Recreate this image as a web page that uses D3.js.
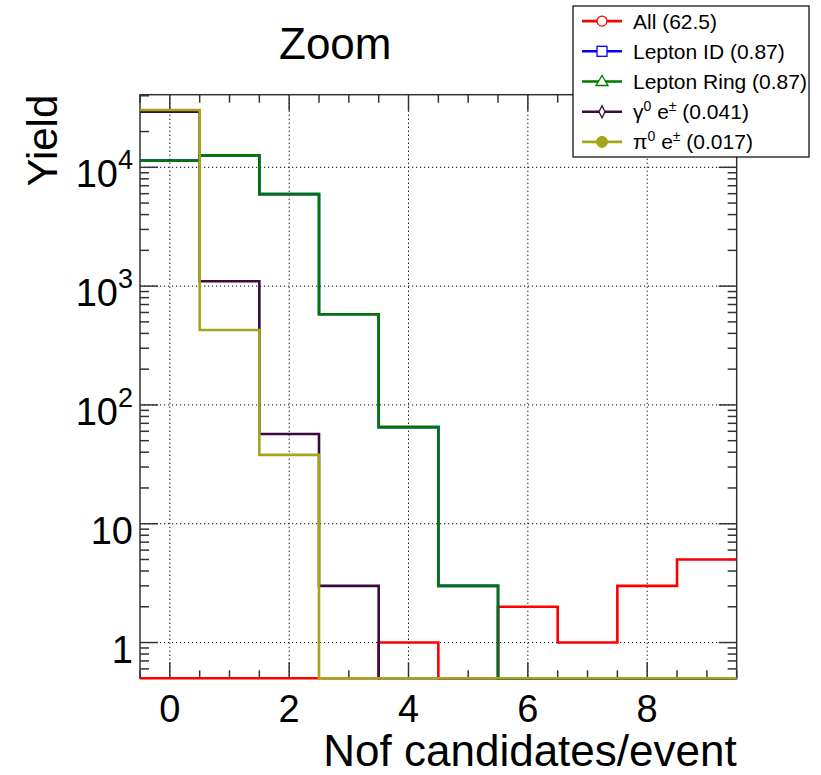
<!DOCTYPE html>
<html>
<head>
<meta charset="utf-8">
<script src="https://cdn.jsdelivr.net/npm/d3@7"></script>
<style>
  html, body { margin: 0; padding: 0; background: #fff; }
  svg { display: block; font-family: "Liberation Sans", Arial, Helvetica, sans-serif; }
</style>
</head>
<body>
<svg id="chart" width="821" height="775"></svg>
<script>
// Bin centres: number of candidates per event
const binCenters = [0, 1, 2, 3, 4, 5, 6, 7, 8, 9];

// Yields per bin for each selection step (0 = empty bin)
const allYield        = [0, 0, 0, 0, 1, 0, 2, 1, 3, 5];
const leptonIdYield   = [11400, 12600, 5950, 580, 65, 3, 0, 0, 0, 0];
const leptonRingYield = [11400, 12600, 5950, 580, 65, 3, 0, 0, 0, 0];
const gammaYield      = [29400, 1100, 57, 3, 0, 0, 0, 0, 0, 0];
const pi0Yield        = [30400, 427, 38, 0, 0, 0, 0, 0, 0, 0];

// Legend entries: label parts and the mean value shown in brackets
const seriesNames = ["All", "Lepton ID", "Lepton Ring", "gamma", "pi0"];
const seriesMeans = ["62.5", "0.87", "0.87", "0.041", "0.017"];

const xTicks = [0, 2, 4, 6, 8];
const yTicks = [1, 10, 100, 1000, 10000];

const series = [
  { name: seriesNames[0], values: allYield,        color: "#ff0000", marker: "circleOpen" },
  { name: seriesNames[1], values: leptonIdYield,   color: "#0000ff", marker: "squareOpen" },
  { name: seriesNames[2], values: leptonRingYield, color: "#007800", marker: "triangleOpen" },
  { name: seriesNames[3], values: gammaYield,      color: "#3c0a3c", marker: "diamondOpen" },
  { name: seriesNames[4], values: pi0Yield,        color: "#a5a51c", marker: "circleFilled" }
];

const svg = d3.select("#chart");
const frame = { left: 140, right: 736.7, top: 94.7, bottom: 678.3 };
const yMin = 0.5, yMax = 40850;

const x = d3.scaleLinear().domain([-0.5, 9.5]).range([frame.left, frame.right]);
const y = d3.scaleLog().domain([yMin, yMax]).range([frame.bottom, frame.top]);

// Dotted grid at the major ticks
const grid = svg.append("g").attr("stroke", "#000").attr("stroke-width", 1)
  .attr("stroke-dasharray", "1.2,2.8");
xTicks.forEach(t => grid.append("line")
  .attr("x1", x(t)).attr("x2", x(t)).attr("y1", frame.top).attr("y2", frame.bottom));
yTicks.forEach(t => grid.append("line")
  .attr("x1", frame.left).attr("x2", frame.right).attr("y1", y(t)).attr("y2", y(t)));

// Ticks on all four sides, pointing inwards
const tickG = svg.append("g").attr("stroke", "#333").attr("stroke-width", 1.5);
const xMinor = d3.range(-0.5, 9.51, 0.5);
xMinor.forEach(t => {
  const major = xTicks.includes(t);
  const len = major ? 16 : 8;
  tickG.append("line").attr("x1", x(t)).attr("x2", x(t))
    .attr("y1", frame.bottom).attr("y2", frame.bottom - len);
  tickG.append("line").attr("x1", x(t)).attr("x2", x(t))
    .attr("y1", frame.top).attr("y2", frame.top + len);
});
const yAll = [];
for (let e = -1; e <= 4; e++) {
  for (let m = 1; m <= 9; m++) {
    const v = m * Math.pow(10, e);
    if (v >= yMin && v <= yMax) yAll.push({ v, major: m === 1 });
  }
}
yAll.forEach(t => {
  const len = t.major ? 18 : 9;
  tickG.append("line").attr("x1", frame.left).attr("x2", frame.left + len)
    .attr("y1", y(t.v)).attr("y2", y(t.v));
  tickG.append("line").attr("x1", frame.right).attr("x2", frame.right - len)
    .attr("y1", y(t.v)).attr("y2", y(t.v));
});

// Frame
svg.append("rect")
  .attr("x", frame.left).attr("y", frame.top)
  .attr("width", frame.right - frame.left).attr("height", frame.bottom - frame.top)
  .attr("fill", "none").attr("stroke", "#333").attr("stroke-width", 1.5);

// Histogram outlines (empty bins sit on the lower edge)
const clipV = v => Math.max(v, yMin);
series.forEach(s => {
  let d = "";
  s.values.forEach((v, i) => {
    const x0 = x(binCenters[i] - 0.5), x1 = x(binCenters[i] + 0.5);
    const yy = y(clipV(v));
    d += (i === 0 ? `M${x0},${yy}` : `V${yy}`) + `H${x1}`;
  });
  svg.append("path").attr("d", d).attr("fill", "none")
    .attr("stroke", s.color).attr("stroke-width", 2.6);
});

// X tick labels
xTicks.forEach(t => svg.append("text")
  .attr("x", x(t)).attr("y", 722).attr("text-anchor", "middle")
  .attr("font-size", 38).text(t));

// Y tick labels: plain for 1 and 10, power notation above
yTicks.forEach(t => {
  const exp = Math.round(Math.log10(t));
  const txt = svg.append("text").attr("x", 133).attr("y", y(t) + 20)
    .attr("text-anchor", "end").attr("font-size", 38);
  if (exp <= 1) {
    txt.text(t);
  } else {
    txt.append("tspan").text("10");
    txt.append("tspan").attr("font-size", 27).attr("dy", -18).text(exp);
  }
});

// Axis titles and pad title
svg.append("text").attr("x", frame.right).attr("y", 766)
  .attr("text-anchor", "end").attr("font-size", 44).text("Nof candidates/event");
svg.append("text")
  .attr("transform", `translate(57,${frame.top}) rotate(-90)`)
  .attr("text-anchor", "end").attr("font-size", 42).text("Yield");
svg.append("text").attr("x", 279).attr("y", 59)
  .attr("font-size", 44).text("Zoom");

// Legend
const leg = { x0: 573, y0: 6, x1: 809, y1: 157 };
svg.append("rect").attr("x", leg.x0).attr("y", leg.y0)
  .attr("width", leg.x1 - leg.x0).attr("height", leg.y1 - leg.y0)
  .attr("fill", "#fff").attr("stroke", "#000").attr("stroke-width", 1.2);
const rowH = (leg.y1 - leg.y0) / series.length;

function drawMarker(g, type, cx, cy, color) {
  const r = 5;
  if (type === "circleOpen") {
    g.append("circle").attr("cx", cx).attr("cy", cy).attr("r", r)
      .attr("fill", "#fff").attr("stroke", color).attr("stroke-width", 1.3);
  } else if (type === "circleFilled") {
    g.append("circle").attr("cx", cx).attr("cy", cy).attr("r", r + 0.5)
      .attr("fill", color).attr("stroke", color);
  } else if (type === "squareOpen") {
    g.append("rect").attr("x", cx - r).attr("y", cy - r).attr("width", 2 * r).attr("height", 2 * r)
      .attr("fill", "#fff").attr("stroke", color).attr("stroke-width", 1.3);
  } else if (type === "triangleOpen") {
    g.append("path").attr("d", `M${cx - r - 1},${cy + r - 1}L${cx + r + 1},${cy + r - 1}L${cx},${cy - r - 1}Z`)
      .attr("fill", "#fff").attr("stroke", color).attr("stroke-width", 1.3);
  } else if (type === "diamondOpen") {
    g.append("path").attr("d", `M${cx},${cy - r - 1}L${cx + r - 2},${cy}L${cx},${cy + r + 1}L${cx - r + 2},${cy}Z`)
      .attr("fill", "#fff").attr("stroke", color).attr("stroke-width", 1.3);
  }
}

series.forEach((s, i) => {
  const cy = leg.y0 + rowH * (i + 0.5);
  const g = svg.append("g");
  g.append("line").attr("x1", 582).attr("x2", 622).attr("y1", cy).attr("y2", cy)
    .attr("stroke", s.color).attr("stroke-width", 2.6);
  drawMarker(g, s.marker, 602, cy, s.color);
  const t = g.append("text").attr("x", 633).attr("y", cy + 7.5).attr("font-size", 21).attr("fill", "#000");
  if (s.name === "gamma" || s.name === "pi0") {
    t.append("tspan").text(s.name === "gamma" ? "\u03B3" : "\u03C0");
    t.append("tspan").attr("font-size", 14).attr("dy", -8).text("0");
    t.append("tspan").attr("dy", 8).text(" e");
    t.append("tspan").attr("font-size", 14).attr("dy", -8).text("\u00B1");
    t.append("tspan").attr("dy", 8).text(` (${seriesMeans[i]})`);
  } else {
    t.text(`${s.name} (${seriesMeans[i]})`);
  }
});
</script>
</body>
</html>
